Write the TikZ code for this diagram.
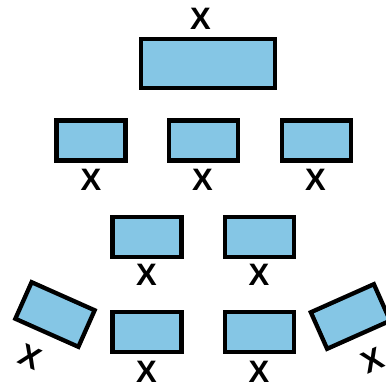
\documentclass[tikz,border=0pt]{standalone}
\usepackage{fontspec}
\setmainfont{Liberation Sans}
\usepackage{xcolor}
\definecolor{boxblue}{RGB}{133,198,229}

\begin{document}
\begin{tikzpicture}[x=1pt,y=-1pt]
\tikzstyle{box}=[rectangle,draw=black,line width=4.3pt,fill=boxblue,inner sep=0pt,minimum width=69pt,minimum height=40pt]
\tikzstyle{xlabel}=[font=\fontsize{31}{31}\selectfont\bfseries,inner sep=0pt]
\useasboundingbox (0,0) rectangle (386,386);
% top
\node[box,minimum width=134pt,minimum height=49pt] (top) at (208,63.5) {};
\node[xlabel] (xtop) at (200.5,19) {X};
% second row
\node[box] (a1) at (91,140.5) {};
\node[box] (a2) at (203.5,140.5) {};
\node[box] (a3) at (316.5,140.5) {};
\node[xlabel] (xa1) at (91,180) {X};
\node[xlabel] (xa2) at (202.5,180) {X};
\node[xlabel] (xa3) at (315.5,180) {X};
% third row
\node[box] (b1) at (147,237) {};
\node[box] (b2) at (259.5,237) {};
\node[xlabel] (xb1) at (146.5,275) {X};
\node[xlabel] (xb2) at (259,275) {X};
% bottom row
\node[box] (c1) at (147,332) {};
\node[box] (c2) at (259.5,332) {};
\node[xlabel] (xc1) at (146.5,371.5) {X};
\node[xlabel] (xc2) at (259,371.5) {X};
% tilted ones
\node[box,rotate=-24] (tl) at (55,314.5) {};
\node[xlabel,rotate=-24] (xtl) at (30,357) {X};
\node[box,rotate=24] (tr) at (350.5,316.5) {};
\node[xlabel,rotate=24] (xtr) at (372.5,361) {X};
\end{tikzpicture}
\end{document}
